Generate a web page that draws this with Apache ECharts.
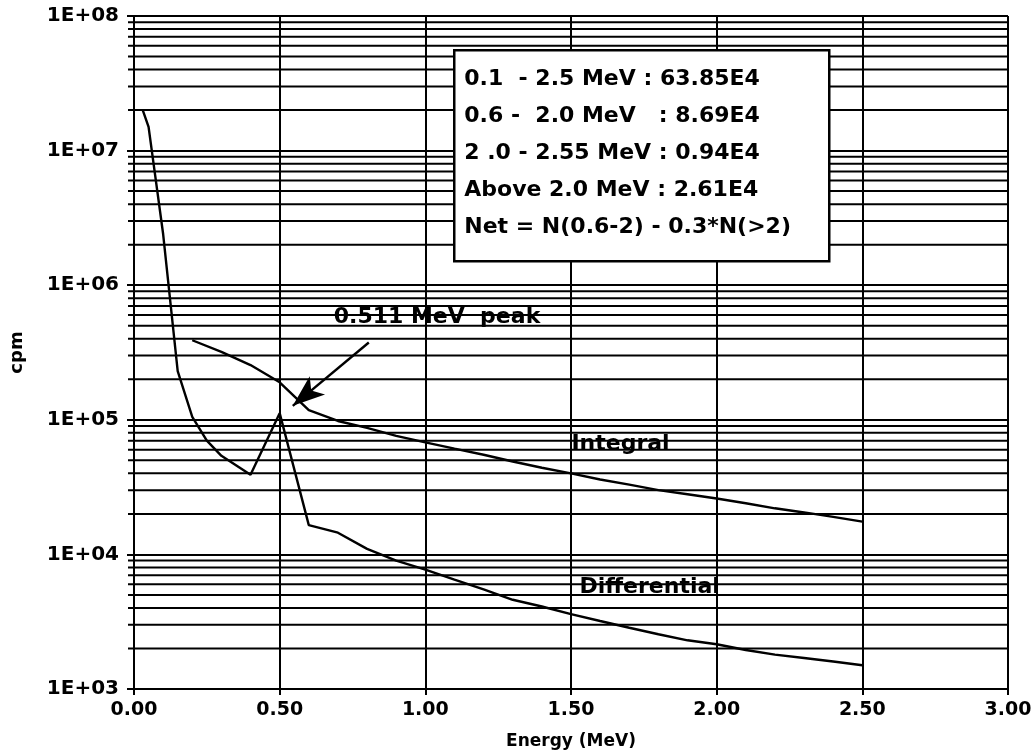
<!DOCTYPE html>
<html>
<head>
<meta charset="utf-8">
<title>Energy spectrum</title>
<script src="https://cdn.jsdelivr.net/npm/echarts@6/dist/echarts.min.js"></script>
<style>
  html, body { margin: 0; padding: 0; background: #fff; }
  #chart { width: 1036px; height: 755px; }
</style>
</head>
<body>
<div id="chart"></div>
<script>
// Differential spectrum (cpm per energy bin)
const diffEnergy = [0.03, 0.05, 0.1, 0.15, 0.2, 0.25, 0.3, 0.35, 0.4, 0.5, 0.6, 0.7, 0.8, 0.9,
  1.0, 1.1, 1.2, 1.3, 1.4, 1.5, 1.6, 1.7, 1.8, 1.9, 2.0, 2.1, 2.2, 2.3, 2.4, 2.5];
const diffCpm = [2.0e7, 1.5e7, 2.4e6, 2.3e5, 1.05e5, 7.0e4, 5.4e4, 4.6e4, 3.9e4, 1.12e5, 1.65e4, 1.45e4, 1.1e4, 9.0e3,
  7.7e3, 6.5e3, 5.5e3, 4.6e3, 4.1e3, 3.6e3, 3.2e3, 2.85e3, 2.55e3, 2.3e3, 2.15e3, 1.95e3, 1.8e3, 1.7e3, 1.6e3, 1.5e3];

// Integral counts above each energy
const intEnergy = [0.2, 0.3, 0.4, 0.5, 0.6, 0.7, 0.8, 0.9, 1.0, 1.1, 1.2, 1.3, 1.4, 1.5,
  1.6, 1.7, 1.8, 1.9, 2.0, 2.1, 2.2, 2.3, 2.4, 2.5];
const intCpm = [3.9e5, 3.2e5, 2.55e5, 1.9e5, 1.18e5, 9.8e4, 8.7e4, 7.6e4, 6.8e4, 6.1e4, 5.5e4, 4.9e4, 4.4e4, 4.0e4,
  3.6e4, 3.3e4, 3.0e4, 2.8e4, 2.6e4, 2.4e4, 2.2e4, 2.05e4, 1.9e4, 1.75e4];

// Axis settings
const xTicks = [0, 0.5, 1.0, 1.5, 2.0, 2.5, 3.0];
const yDecades = [1e3, 1e4, 1e5, 1e6, 1e7, 1e8];
const minorMultipliers = [2, 3, 4, 5, 6, 7, 8, 9];

// Summary box
const summaryLines = [
  '0.1  - 2.5 MeV : 63.85E4',
  '0.6 -  2.0 MeV   : 8.69E4',
  '2 .0 - 2.55 MeV : 0.94E4',
  'Above 2.0 MeV : 2.61E4',
  'Net = N(0.6-2) - 0.3*N(>2)'
];
const peakLabel = '0.511 MeV  peak';
const integralLabel = 'Integral';
const differentialLabel = 'Differential';

const FONT = 'DejaVu Sans';
const INK = '#000';

// minor gridlines at 2..9 x each decade
const minorGrid = [];
for (let i = 0; i < yDecades.length - 1; i++) {
  for (const m of minorMultipliers) minorGrid.push([0, m * yDecades[i]]);
}

const zip = (xs, ys) => xs.map((x, i) => [x, ys[i]]);

const chart = echarts.init(document.getElementById('chart'), null, { renderer: 'canvas' });

const option = {
  backgroundColor: '#fff',
  animation: false,
  grid: { left: 133, right: 28, top: 16, bottom: 65, containLabel: false },
  xAxis: {
    type: 'value',
    min: 0, max: 3, interval: 0.5,
    name: 'Energy (MeV)',
    nameLocation: 'middle',
    nameGap: 44,
    nameTextStyle: { fontFamily: FONT, fontSize: 17, fontWeight: 'bold', color: INK },
    axisLine: { show: true, lineStyle: { color: INK, width: 2 } },
    axisTick: { show: true, length: 6, lineStyle: { color: INK, width: 2 } },
    axisLabel: { fontFamily: FONT, fontSize: 19, fontWeight: 'bold', color: INK, margin: 12,
      formatter: v => v.toFixed(2) },
    splitLine: { show: true, lineStyle: { color: INK, width: 2 } }
  },
  yAxis: {
    type: 'log',
    logBase: 10,
    min: yDecades[0], max: yDecades[yDecades.length - 1],
    name: 'cpm',
    nameLocation: 'middle',
    nameGap: 108,
    nameRotate: 90,
    nameTextStyle: { fontFamily: FONT, fontSize: 18, fontWeight: 'bold', color: INK },
    axisLine: { show: true, lineStyle: { color: INK, width: 2 } },
    axisTick: { show: true, length: 7, lineStyle: { color: INK, width: 2 } },
    axisLabel: { fontFamily: FONT, fontSize: 20, fontWeight: 'bold', color: INK, margin: 15,
      formatter: v => '1E+' + String(Math.round(Math.log10(v))).padStart(2, '0') },
    splitLine: { show: true, lineStyle: { color: INK, width: 2 } },
    minorTick: { show: false },
    minorSplitLine: { show: false }
  },
  series: [
    {
      name: 'minor grid',
      type: 'custom',
      silent: true,
      clip: false,
      z: 1,
      data: minorGrid,
      renderItem: (params, api) => {
        const cs = params.coordSys;
        const y = api.coord([0, api.value(1)])[1];
        return {
          type: 'line',
          shape: { x1: cs.x - 6, y1: y, x2: cs.x + cs.width, y2: y },
          style: { stroke: INK, lineWidth: 2 }
        };
      }
    },
    {
      name: differentialLabel,
      type: 'line',
      data: zip(diffEnergy, diffCpm),
      showSymbol: false,
      symbol: 'none',
      z: 3,
      lineStyle: { color: INK, width: 2.4 }
    },
    {
      name: integralLabel,
      type: 'line',
      data: zip(intEnergy, intCpm),
      showSymbol: false,
      symbol: 'none',
      z: 3,
      lineStyle: { color: INK, width: 2.4 }
    },
    {
      name: 'notes',
      type: 'scatter',
      symbolSize: 0,
      silent: true,
      z: 4,
      itemStyle: { color: INK, opacity: 1 },
      label: { show: true, position: 'inside', fontFamily: FONT, fontSize: 22, fontWeight: 'bold',
        color: INK, opacity: 1, textBorderWidth: 0, textBorderColor: 'transparent',
        formatter: p => p.data.text },
      data: [
        { value: [1.04, 5.8e5], text: peakLabel },
        { value: [1.67, 6.55e4], text: integralLabel },
        { value: [1.77, 5.7e3], text: differentialLabel }
      ],
      markLine: {
        silent: true,
        symbol: ['none', 'arrow'],
        symbolSize: [18, 32],
        label: { show: false },
        lineStyle: { color: INK, width: 2.4, type: 'solid', opacity: 1 },
        itemStyle: { color: INK, opacity: 1 },
        data: [[ { coord: [0.806, 3.75e5] }, { coord: [0.545, 1.27e5] } ]]
      }
    }
  ],
  graphic: [
    {
      type: 'group',
      left: 453, top: 49,
      zlevel: 2,
      z: 100,
      children: [
        { type: 'rect', zlevel: 2, z: 100, shape: { x: 0, y: 0, width: 375, height: 211 },
          style: { fill: '#fff', stroke: INK, lineWidth: 2.5 } },
        ...summaryLines.map((t, i) => ({
          type: 'text',
          zlevel: 2, z: 101,
          x: 10, y: 29 + i * 37,
          style: { text: t, fontFamily: FONT, fontSize: 22, fontWeight: 'bold', fill: INK, verticalAlign: 'middle' }
        }))
      ]
    }
  ]
};

chart.setOption(option);
</script>
</body>
</html>
